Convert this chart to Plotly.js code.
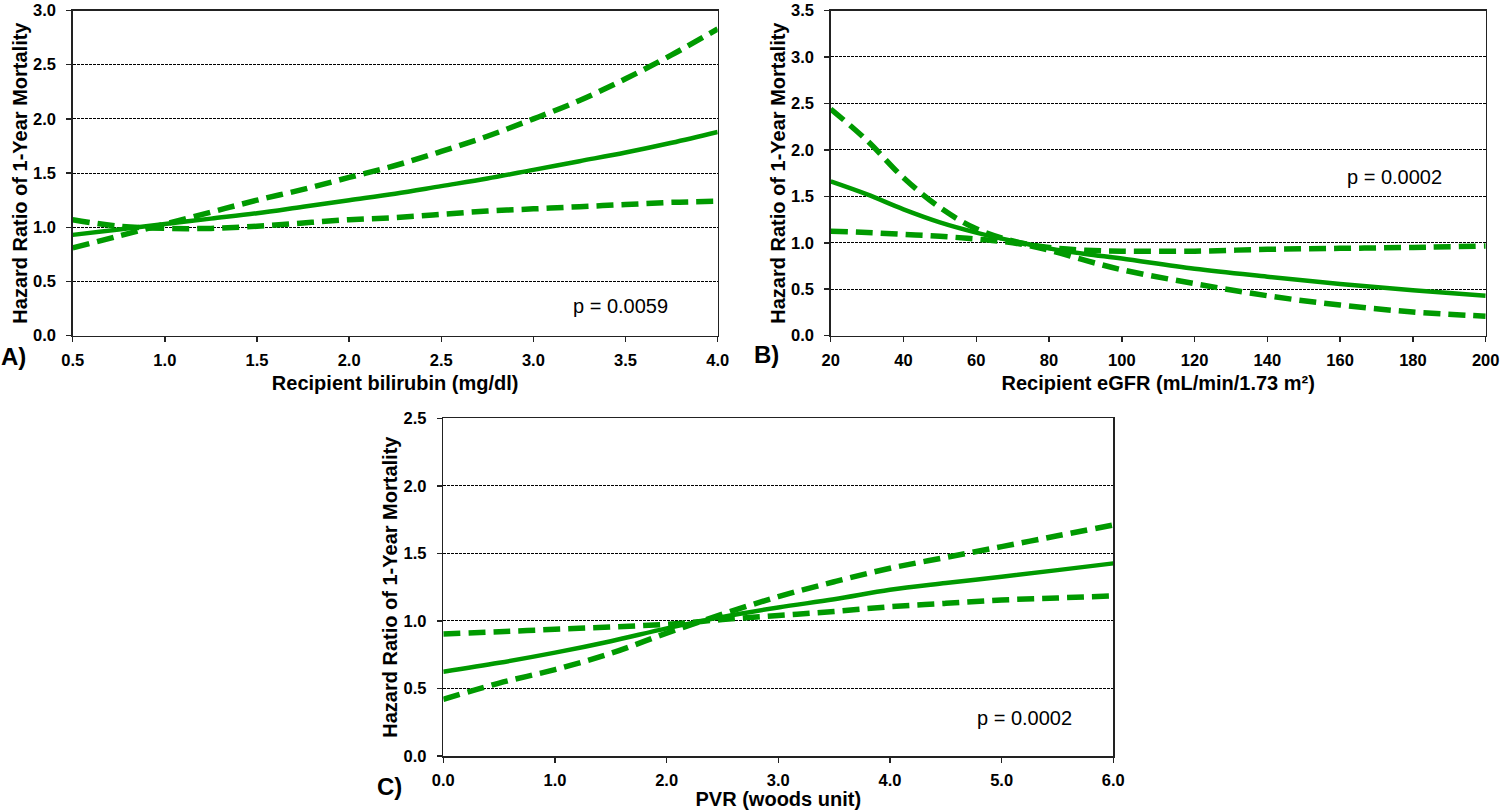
<!DOCTYPE html>
<html>
<head>
<meta charset="utf-8">
<script src="https://cdn.plot.ly/plotly-3.0.1.min.js"></script>
<style>html,body{margin:0;padding:0;background:#fff;}#chart{width:1500px;height:810px;}</style>
</head>
<body>
<div id="chart"></div>
<script>
// Panel A: Recipient bilirubin
const bilirubinX = [0.5, 0.75, 1.0, 1.25, 1.5, 1.75, 2.0, 2.25, 2.5, 2.75, 3.0, 3.25, 3.5, 3.75, 4.0];
const bilirubinHR = [0.93, 0.98, 1.03, 1.08, 1.13, 1.19, 1.25, 1.31, 1.38, 1.45, 1.53, 1.61, 1.69, 1.78, 1.88];
const bilirubinCI1 = [0.81, 0.92, 1.03, 1.14, 1.25, 1.35, 1.46, 1.57, 1.70, 1.84, 2.00, 2.17, 2.37, 2.59, 2.83];
const bilirubinCI2 = [1.07, 1.01, 0.99, 0.99, 1.01, 1.04, 1.07, 1.09, 1.12, 1.15, 1.17, 1.19, 1.21, 1.23, 1.24];

// Panel B: Recipient eGFR
const egfrX = [20, 30, 40, 50, 60, 70, 80, 90, 100, 120, 140, 160, 180, 200];
const egfrHR = [1.66, 1.52, 1.36, 1.22, 1.11, 1.02, 0.94, 0.88, 0.83, 0.72, 0.635, 0.557, 0.49, 0.43];
const egfrCI1 = [2.44, 2.10, 1.70, 1.38, 1.15, 1.02, 0.95, 0.92, 0.91, 0.91, 0.93, 0.94, 0.95, 0.965];
const egfrCI2 = [1.125, 1.11, 1.09, 1.07, 1.04, 1.0, 0.92, 0.81, 0.71, 0.56, 0.43, 0.33, 0.255, 0.21];

// Panel C: PVR
const pvrX = [0, 0.5, 1.0, 1.5, 2.0, 2.5, 3.0, 3.5, 4.0, 4.5, 5.0, 5.5, 6.0];
const pvrHR = [0.624, 0.69, 0.765, 0.85, 0.945, 1.03, 1.10, 1.16, 1.23, 1.28, 1.327, 1.376, 1.426];
const pvrCI1 = [0.42, 0.54, 0.64, 0.76, 0.91, 1.05, 1.18, 1.29, 1.39, 1.47, 1.55, 1.63, 1.71];
const pvrCI2 = [0.903, 0.92, 0.938, 0.955, 0.975, 1.01, 1.04, 1.07, 1.105, 1.13, 1.155, 1.17, 1.185];

const xLabels = ["Recipient bilirubin (mg/dl)", "Recipient eGFR (mL/min/1.73 m²)", "PVR (woods unit)"];
const yLabel = "Hazard Ratio of 1-Year Mortality";
const pTexts = ["p = 0.0059", "p = 0.0002", "p = 0.0002"];
const panelLabels = ["A)", "B)", "C)"];

const GREEN = '#009a00';
const W = 1500, H = 810;
function px(x){return x/W;}
function py(y){return 1 - y/H;}

function solid(x, y, xa, ya){
  return {x:x, y:y, xaxis:xa, yaxis:ya, mode:'lines', type:'scatter',
    line:{color:GREEN, width:4.5, shape:'spline', smoothing:1}, hoverinfo:'skip', showlegend:false};
}
function dashed(x, y, xa, ya){
  return {x:x, y:y, xaxis:xa, yaxis:ya, mode:'lines', type:'scatter',
    line:{color:GREEN, width:5.5, dash:'17px,8px', shape:'spline', smoothing:1}, hoverinfo:'skip', showlegend:false};
}

const data = [
  solid(bilirubinX, bilirubinHR, 'x', 'y'),
  dashed(bilirubinX, bilirubinCI1, 'x', 'y'),
  dashed(bilirubinX, bilirubinCI2, 'x', 'y'),
  solid(egfrX, egfrHR, 'x2', 'y2'),
  dashed(egfrX, egfrCI1, 'x2', 'y2'),
  dashed(egfrX, egfrCI2, 'x2', 'y2'),
  solid(pvrX, pvrHR, 'x3', 'y3'),
  dashed(pvrX, pvrCI1, 'x3', 'y3'),
  dashed(pvrX, pvrCI2, 'x3', 'y3')
];

const tickFont = {family:'Liberation Sans, Arial, sans-serif', size:16.5, color:'#000', weight:'bold'};
const titleFont = {family:'Liberation Sans, Arial, sans-serif', size:20, color:'#000', weight:'bold'};

function xaxis(domain, range, dtick, fmt, anchor, title){
  return {domain:domain, range:range, dtick:dtick, tick0:range[0], tickformat:fmt, anchor:anchor,
    showline:true, mirror:true, linecolor:'#222', linewidth:1.5, ticks:'outside', ticklen:5, tickcolor:'#222',
    tickwidth:1.5, showgrid:false, zeroline:false, tickfont:tickFont, ticklabelstandoff:4, ticklabeloverflow:'allow',
    title:{text:title, font:titleFont, standoff:8}, fixedrange:true};
}
function yaxis(domain, range, anchor){
  return {domain:domain, range:range, dtick:0.5, tick0:0, tickformat:'.1f', anchor:anchor,
    showline:true, mirror:true, linecolor:'#222', linewidth:1.5, ticks:'outside', ticklen:5, tickcolor:'#222',
    tickwidth:1.5, showgrid:true, gridcolor:'#000', gridwidth:1, griddash:'3px,1px', zeroline:false,
    tickfont:tickFont, ticklabelstandoff:7, ticklabeloverflow:'allow',
    title:{text:yLabel, font:titleFont, standoff:0}, fixedrange:true};
}

const layout = {
  width:W, height:H, autosize:false,
  margin:{l:0, r:0, t:0, b:0, pad:0},
  paper_bgcolor:'#fff', plot_bgcolor:'#fff',
  showlegend:false,
  xaxis: xaxis([px(72.7), px(717.7)], [0.5, 4.0], 0.5, '.1f', 'y', xLabels[0]),
  yaxis: yaxis([py(335.7), py(10.5)], [0, 3.0], 'x'),
  xaxis2: xaxis([px(830.7), px(1485.7)], [20, 200], 20, 'd', 'y2', xLabels[1]),
  yaxis2: yaxis([py(335.7), py(10.5)], [0, 3.5], 'x2'),
  xaxis3: xaxis([px(443.3), px(1113.3)], [0, 6.0], 1, '.1f', 'y3', xLabels[2]),
  yaxis3: yaxis([py(756), py(418.3)], [0, 2.5], 'x3'),
  annotations: [
    {text:pTexts[0], xref:'paper', yref:'paper', x:px(620), y:py(306), showarrow:false, xanchor:'center', yanchor:'middle', font:{family:'Liberation Sans, Arial, sans-serif', size:20, color:'#000'}},
    {text:pTexts[1], xref:'paper', yref:'paper', x:px(1394), y:py(177), showarrow:false, xanchor:'center', yanchor:'middle', font:{family:'Liberation Sans, Arial, sans-serif', size:20, color:'#000'}},
    {text:pTexts[2], xref:'paper', yref:'paper', x:px(1024), y:py(718), showarrow:false, xanchor:'center', yanchor:'middle', font:{family:'Liberation Sans, Arial, sans-serif', size:20, color:'#000'}},
    {text:panelLabels[0], xref:'paper', yref:'paper', x:px(13), y:py(356), showarrow:false, xanchor:'center', yanchor:'middle', font:{family:'Liberation Sans, Arial, sans-serif', size:24, color:'#000', weight:'bold'}},
    {text:panelLabels[1], xref:'paper', yref:'paper', x:px(766), y:py(354), showarrow:false, xanchor:'center', yanchor:'middle', font:{family:'Liberation Sans, Arial, sans-serif', size:24, color:'#000', weight:'bold'}},
    {text:panelLabels[2], xref:'paper', yref:'paper', x:px(389), y:py(786), showarrow:false, xanchor:'center', yanchor:'middle', font:{family:'Liberation Sans, Arial, sans-serif', size:24, color:'#000', weight:'bold'}}
  ]
};

Plotly.newPlot('chart', data, layout, {staticPlot:true, displayModeBar:false});
</script>
</body>
</html>
